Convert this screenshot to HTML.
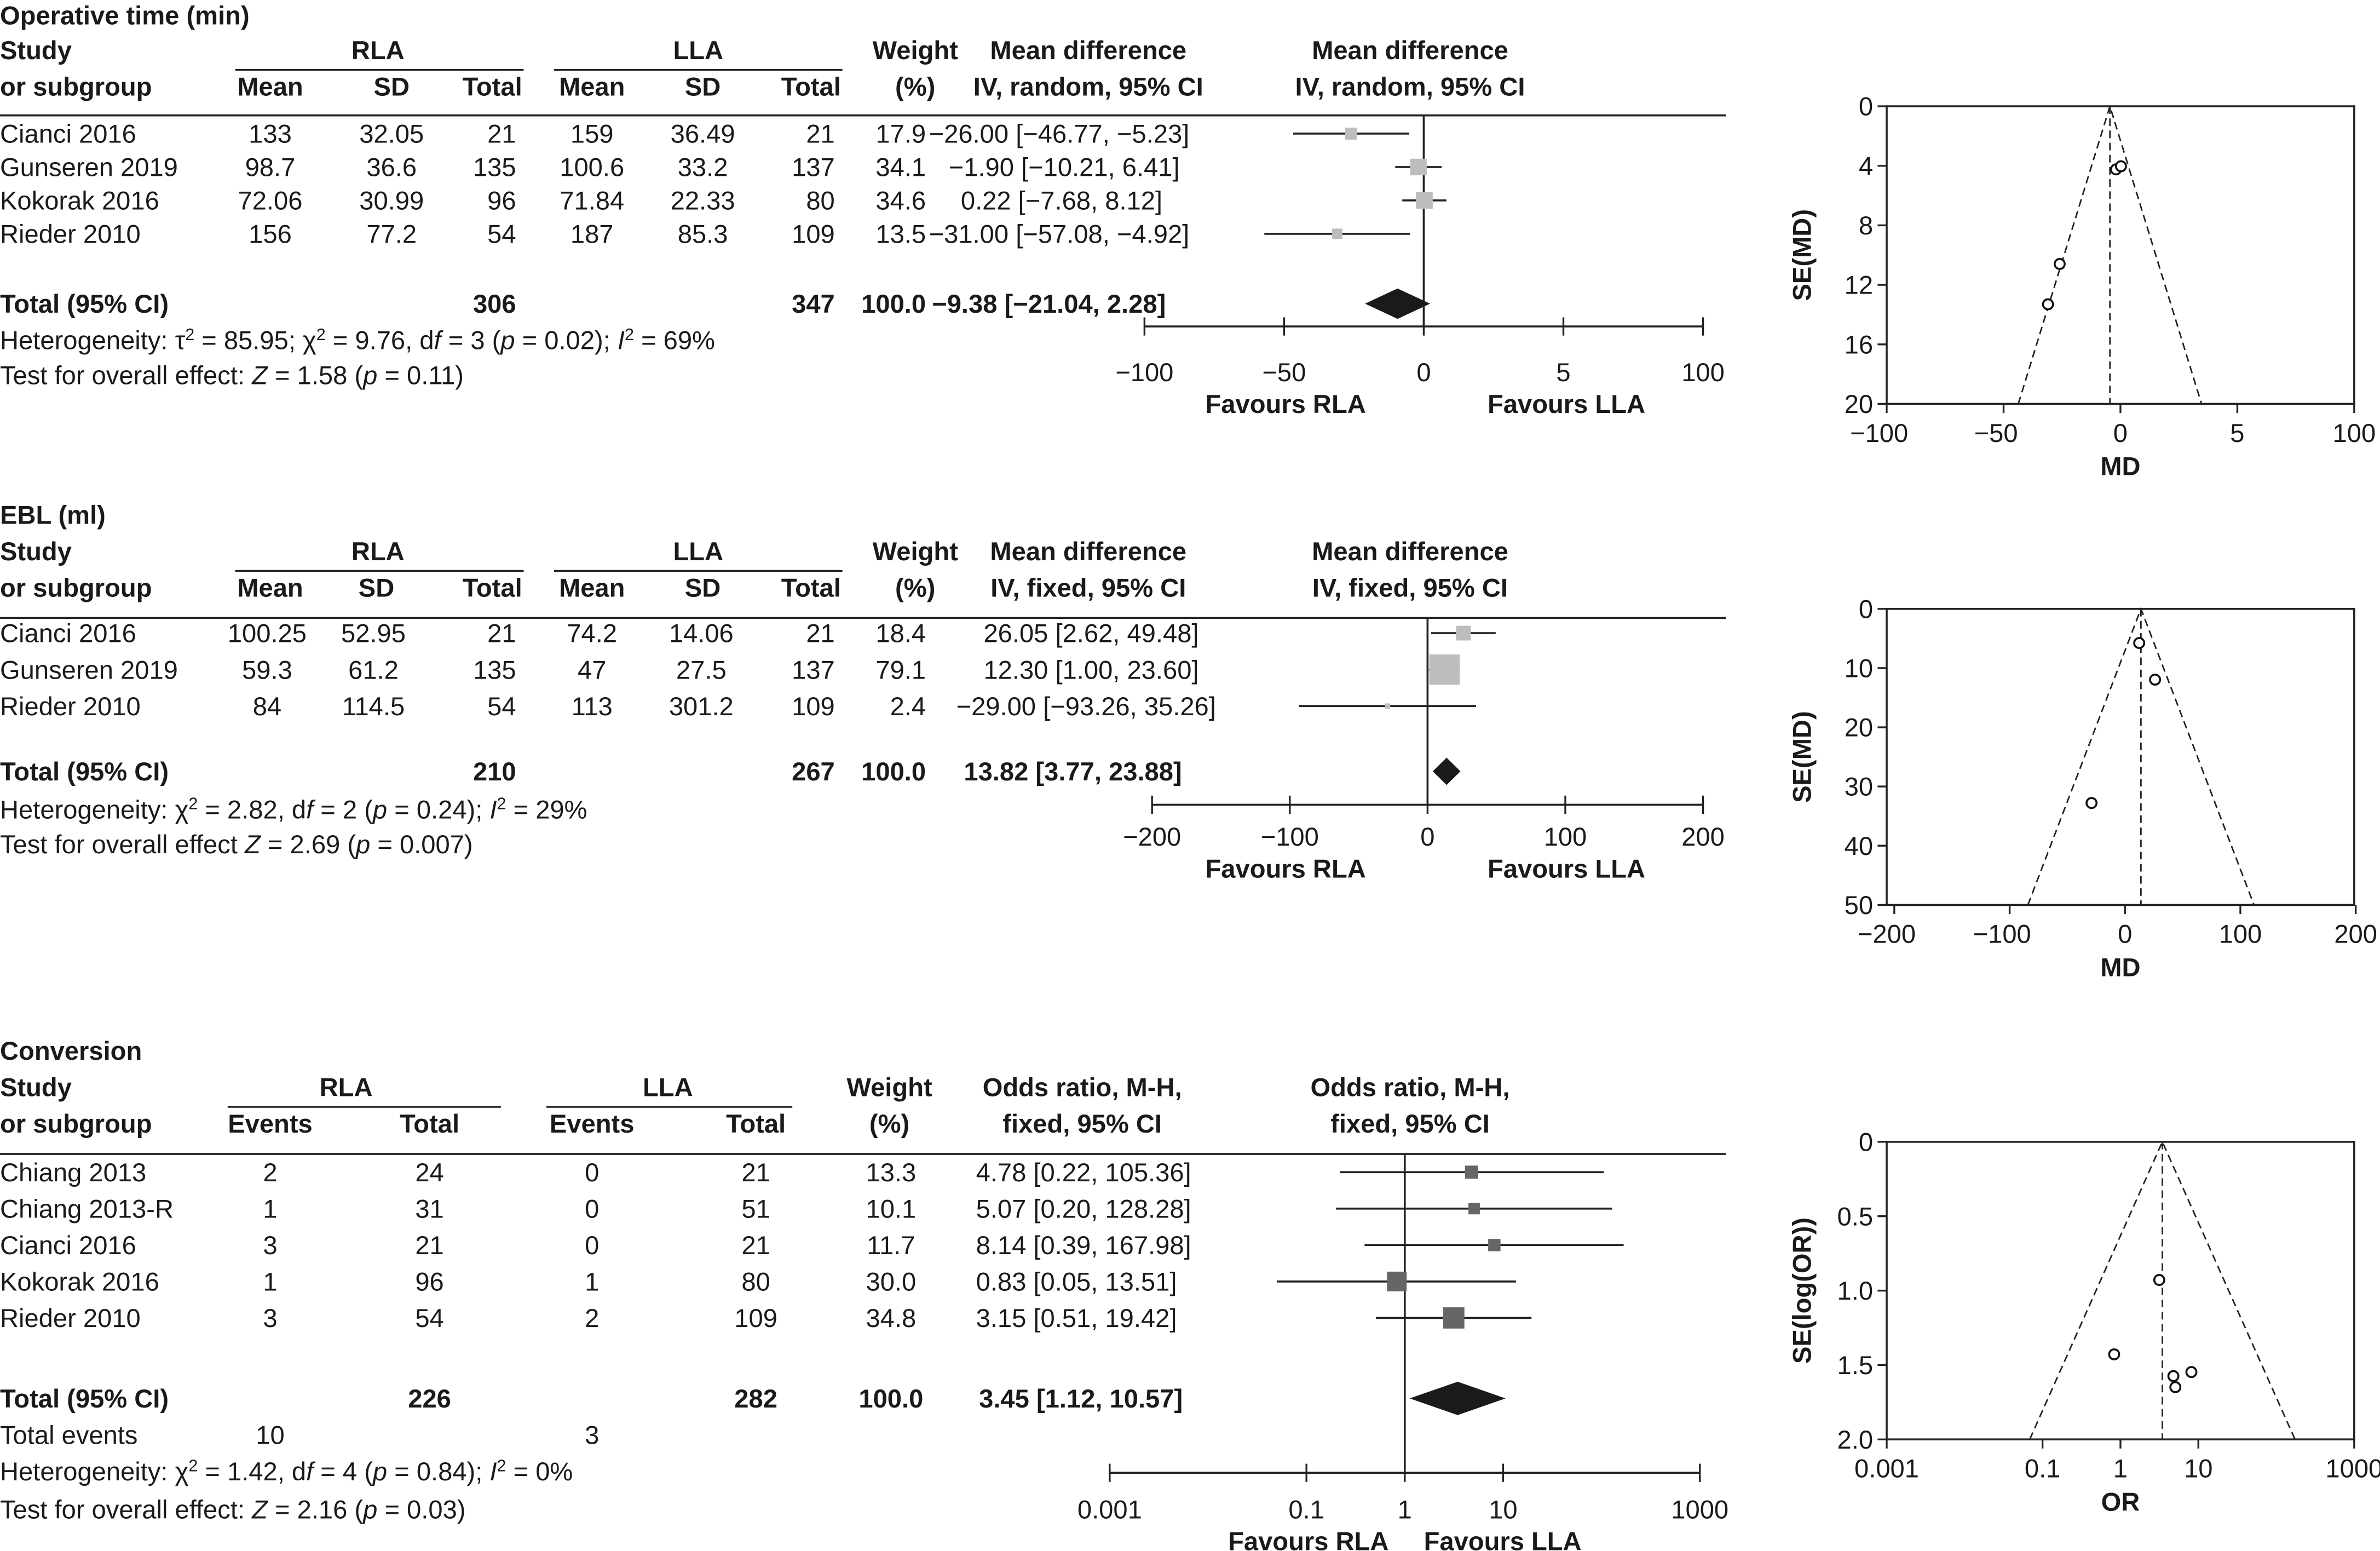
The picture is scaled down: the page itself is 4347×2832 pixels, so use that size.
<!DOCTYPE html>
<html><head><meta charset="utf-8"><style>
html,body{margin:0;padding:0;background:#fff;}
svg{display:block;}
text{font-family:"Liberation Sans",sans-serif;font-size:17px;fill:#1a1a1a;}
.b{font-weight:bold;}
.c{text-anchor:middle;}
.r{text-anchor:end;}
</style></head><body>
<svg id="fig" xmlns="http://www.w3.org/2000/svg" width="4347" height="2832" viewBox="0 0 1568 1021.5" preserveAspectRatio="none">
<rect x="0" y="0" width="1568" height="1021.5" fill="#fff"/>

<!-- PANEL 1 -->
<g>
<text class="b" x="0" y="16">Operative time (min)</text>
<text class="b" x="0" y="39">Study</text>
<text class="b" x="0" y="63">or subgroup</text>
<text class="b c" x="249" y="39">RLA</text>
<line x1="155" y1="46" x2="345" y2="46" stroke="#222" stroke-width="1.2"/>
<text class="b c" x="460" y="39">LLA</text>
<line x1="365" y1="46" x2="555" y2="46" stroke="#222" stroke-width="1.2"/>
<text class="b c" x="178" y="63">Mean</text><text class="b c" x="258" y="63">SD</text><text class="b r" x="344" y="63">Total</text>
<text class="b c" x="390" y="63">Mean</text><text class="b c" x="463" y="63">SD</text><text class="b r" x="554" y="63">Total</text>
<text class="b c" x="603" y="39">Weight</text><text class="b c" x="603" y="63">(%)</text>
<text class="b c" x="717" y="39">Mean difference</text><text class="b c" x="717" y="63">IV, random, 95% CI</text>
<text class="b c" x="929" y="39">Mean difference</text><text class="b c" x="929" y="63">IV, random, 95% CI</text>
<line x1="0" y1="76" x2="1137" y2="76" stroke="#222" stroke-width="1.3"/>
<g><text x="0" y="94">Cianci 2016</text><text class="c" x="178" y="94">133</text><text class="c" x="258" y="94">32.05</text><text class="r" x="340" y="94">21</text><text class="c" x="390" y="94">159</text><text class="c" x="463" y="94">36.49</text><text class="r" x="550" y="94">21</text><text class="r" x="610" y="94">17.9</text><text x="612" y="94">−26.00 [−46.77, −5.23]</text></g>
<g><text x="0" y="116">Gunseren 2019</text><text class="c" x="178" y="116">98.7</text><text class="c" x="258" y="116">36.6</text><text class="r" x="340" y="116">135</text><text class="c" x="390" y="116">100.6</text><text class="c" x="463" y="116">33.2</text><text class="r" x="550" y="116">137</text><text class="r" x="610" y="116">34.1</text><text x="625" y="116">−1.90 [−10.21, 6.41]</text></g>
<g><text x="0" y="138">Kokorak 2016</text><text class="c" x="178" y="138">72.06</text><text class="c" x="258" y="138">30.99</text><text class="r" x="340" y="138">96</text><text class="c" x="390" y="138">71.84</text><text class="c" x="463" y="138">22.33</text><text class="r" x="550" y="138">80</text><text class="r" x="610" y="138">34.6</text><text x="633" y="138">0.22 [−7.68, 8.12]</text></g>
<g><text x="0" y="160">Rieder 2010</text><text class="c" x="178" y="160">156</text><text class="c" x="258" y="160">77.2</text><text class="r" x="340" y="160">54</text><text class="c" x="390" y="160">187</text><text class="c" x="463" y="160">85.3</text><text class="r" x="550" y="160">109</text><text class="r" x="610" y="160">13.5</text><text x="612" y="160">−31.00 [−57.08, −4.92]</text></g>
<g><text class="b" x="0" y="206">Total (95% CI)</text><text class="b r" x="340" y="206">306</text><text class="b r" x="550" y="206">347</text><text class="b r" x="610" y="206">100.0</text><text class="b" x="614" y="206">−9.38 [−21.04, 2.28]</text></g>
<text x="0" y="230">Heterogeneity: τ<tspan font-size="11" dy="-6">2</tspan><tspan dy="6"> = 85.95; χ</tspan><tspan font-size="11" dy="-6">2</tspan><tspan dy="6"> = 9.76, d</tspan><tspan font-style="italic">f</tspan> = 3 (<tspan font-style="italic">p</tspan> = 0.02); <tspan font-style="italic">I</tspan><tspan font-size="11" dy="-6">2</tspan><tspan dy="6"> = 69%</tspan></text>
<text x="0" y="253">Test for overall effect: <tspan font-style="italic">Z</tspan> = 1.58 (<tspan font-style="italic">p</tspan> = 0.11)</text>
</g>

<!-- PANEL 2 -->
<g>
<text class="b" x="0" y="345">EBL (ml)</text>
<text class="b" x="0" y="369">Study</text>
<text class="b" x="0" y="393">or subgroup</text>
<text class="b c" x="249" y="369">RLA</text>
<line x1="155" y1="376" x2="345" y2="376" stroke="#222" stroke-width="1.2"/>
<text class="b c" x="460" y="369">LLA</text>
<line x1="365" y1="376" x2="555" y2="376" stroke="#222" stroke-width="1.2"/>
<text class="b c" x="178" y="393">Mean</text><text class="b c" x="248" y="393">SD</text><text class="b r" x="344" y="393">Total</text>
<text class="b c" x="390" y="393">Mean</text><text class="b c" x="463" y="393">SD</text><text class="b r" x="554" y="393">Total</text>
<text class="b c" x="603" y="369">Weight</text><text class="b c" x="603" y="393">(%)</text>
<text class="b c" x="717" y="369">Mean difference</text><text class="b c" x="717" y="393">IV, fixed, 95% CI</text>
<text class="b c" x="929" y="369">Mean difference</text><text class="b c" x="929" y="393">IV, fixed, 95% CI</text>
<line x1="0" y1="407" x2="1137" y2="407" stroke="#222" stroke-width="1.3"/>
<g><text x="0" y="423">Cianci 2016</text><text class="c" x="176" y="423">100.25</text><text class="c" x="246" y="423">52.95</text><text class="r" x="340" y="423">21</text><text class="c" x="390" y="423">74.2</text><text class="c" x="462" y="423">14.06</text><text class="r" x="550" y="423">21</text><text class="r" x="610" y="423">18.4</text><text x="648" y="423">26.05 [2.62, 49.48]</text></g>
<g><text x="0" y="447">Gunseren 2019</text><text class="c" x="176" y="447">59.3</text><text class="c" x="246" y="447">61.2</text><text class="r" x="340" y="447">135</text><text class="c" x="390" y="447">47</text><text class="c" x="462" y="447">27.5</text><text class="r" x="550" y="447">137</text><text class="r" x="610" y="447">79.1</text><text x="648" y="447">12.30 [1.00, 23.60]</text></g>
<g><text x="0" y="471">Rieder 2010</text><text class="c" x="176" y="471">84</text><text class="c" x="246" y="471">114.5</text><text class="r" x="340" y="471">54</text><text class="c" x="390" y="471">113</text><text class="c" x="462" y="471">301.2</text><text class="r" x="550" y="471">109</text><text class="r" x="610" y="471">2.4</text><text x="630" y="471">−29.00 [−93.26, 35.26]</text></g>
<g><text class="b" x="0" y="514">Total (95% CI)</text><text class="b r" x="340" y="514">210</text><text class="b r" x="550" y="514">267</text><text class="b r" x="610" y="514">100.0</text><text class="b" x="635" y="514">13.82 [3.77, 23.88]</text></g>
<text x="0" y="539">Heterogeneity: χ<tspan font-size="11" dy="-6">2</tspan><tspan dy="6"> = 2.82, d</tspan><tspan font-style="italic">f</tspan> = 2 (<tspan font-style="italic">p</tspan> = 0.24); <tspan font-style="italic">I</tspan><tspan font-size="11" dy="-6">2</tspan><tspan dy="6"> = 29%</tspan></text>
<text x="0" y="562">Test for overall effect <tspan font-style="italic">Z</tspan> = 2.69 (<tspan font-style="italic">p</tspan> = 0.007)</text>
</g>

<!-- PANEL 3 -->
<g>
<text class="b" x="0" y="698">Conversion</text>
<text class="b" x="0" y="722">Study</text>
<text class="b" x="0" y="746">or subgroup</text>
<text class="b c" x="228" y="722">RLA</text>
<line x1="150" y1="729" x2="330" y2="729" stroke="#222" stroke-width="1.2"/>
<text class="b c" x="440" y="722">LLA</text>
<line x1="360" y1="729" x2="522" y2="729" stroke="#222" stroke-width="1.2"/>
<text class="b c" x="178" y="746">Events</text><text class="b c" x="283" y="746">Total</text>
<text class="b c" x="390" y="746">Events</text><text class="b c" x="498" y="746">Total</text>
<text class="b c" x="586" y="722">Weight</text><text class="b c" x="586" y="746">(%)</text>
<text class="b c" x="713" y="722">Odds ratio, M-H,</text><text class="b c" x="713" y="746">fixed, 95% CI</text>
<text class="b c" x="929" y="722">Odds ratio, M-H,</text><text class="b c" x="929" y="746">fixed, 95% CI</text>
<line x1="0" y1="760" x2="1137" y2="760" stroke="#222" stroke-width="1.3"/>
<g><text x="0" y="778">Chiang 2013</text><text class="c" x="178" y="778">2</text><text class="c" x="283" y="778">24</text><text class="c" x="390" y="778">0</text><text class="c" x="498" y="778">21</text><text class="c" x="587" y="778">13.3</text><text x="643" y="778">4.78 [0.22, 105.36]</text></g>
<g><text x="0" y="802">Chiang 2013-R</text><text class="c" x="178" y="802">1</text><text class="c" x="283" y="802">31</text><text class="c" x="390" y="802">0</text><text class="c" x="498" y="802">51</text><text class="c" x="587" y="802">10.1</text><text x="643" y="802">5.07 [0.20, 128.28]</text></g>
<g><text x="0" y="826">Cianci 2016</text><text class="c" x="178" y="826">3</text><text class="c" x="283" y="826">21</text><text class="c" x="390" y="826">0</text><text class="c" x="498" y="826">21</text><text class="c" x="587" y="826">11.7</text><text x="643" y="826">8.14 [0.39, 167.98]</text></g>
<g><text x="0" y="850">Kokorak 2016</text><text class="c" x="178" y="850">1</text><text class="c" x="283" y="850">96</text><text class="c" x="390" y="850">1</text><text class="c" x="498" y="850">80</text><text class="c" x="587" y="850">30.0</text><text x="643" y="850">0.83 [0.05, 13.51]</text></g>
<g><text x="0" y="874">Rieder 2010</text><text class="c" x="178" y="874">3</text><text class="c" x="283" y="874">54</text><text class="c" x="390" y="874">2</text><text class="c" x="498" y="874">109</text><text class="c" x="587" y="874">34.8</text><text x="643" y="874">3.15 [0.51, 19.42]</text></g>
<g><text class="b" x="0" y="927">Total (95% CI)</text><text class="b c" x="283" y="927">226</text><text class="b c" x="498" y="927">282</text><text class="b c" x="587" y="927">100.0</text><text class="b" x="645" y="927">3.45 [1.12, 10.57]</text></g>
<g><text x="0" y="951">Total events</text><text class="c" x="178" y="951">10</text><text class="c" x="390" y="951">3</text></g>
<text x="0" y="975">Heterogeneity: χ<tspan font-size="11" dy="-6">2</tspan><tspan dy="6"> = 1.42, d</tspan><tspan font-style="italic">f</tspan> = 4 (<tspan font-style="italic">p</tspan> = 0.84); <tspan font-style="italic">I</tspan><tspan font-size="11" dy="-6">2</tspan><tspan dy="6"> = 0%</tspan></text>
<text x="0" y="1000">Test for overall effect: <tspan font-style="italic">Z</tspan> = 2.16 (<tspan font-style="italic">p</tspan> = 0.03)</text>
</g>

<g id="charts"></g>
</svg>
<script>
// ---- Panel 1: Operative time (mean difference) ----
const p1Studies = ["Cianci 2016","Gunseren 2019","Kokorak 2016","Rieder 2010"];
const p1Md = [-26.00, -1.90, 0.22, -31.00];
const p1Lo = [-46.77, -10.21, -7.68, -57.08];
const p1Hi = [-5.23, 6.41, 8.12, -4.92];
const p1Weight = [17.9, 34.1, 34.6, 13.5];
const p1Total = [-9.38, -21.04, 2.28];
const p1FunnelCenter = [-4.5];
const p1Ticks = [-100, -50, 0, 50, 100];
const p1TickLabels = ["−100","−50","0","5","100"];
const p1FunnelYTicks = [0,4,8,12,16,20];
// ---- Panel 2: EBL ----
const p2Studies = ["Cianci 2016","Gunseren 2019","Rieder 2010"];
const p2Md = [26.05, 12.30, -29.00];
const p2Lo = [2.62, 1.00, -93.26];
const p2Hi = [49.48, 23.60, 35.26];
const p2Weight = [18.4, 79.1, 2.4];
const p2Total = [13.82, 3.77, 23.88];
const p2Ticks = [-200, -100, 0, 100, 200];
const p2TickLabels = ["−200","−100","0","100","200"];
const p2FunnelYTicks = [0,10,20,30,40,50];
// ---- Panel 3: Conversion (odds ratio) ----
const p3Studies = ["Chiang 2013","Chiang 2013-R","Cianci 2016","Kokorak 2016","Rieder 2010"];
const p3Or = [4.78, 5.07, 8.14, 0.83, 3.15];
const p3Lo = [0.22, 0.20, 0.39, 0.05, 0.51];
const p3Hi = [105.36, 128.28, 167.98, 13.51, 19.42];
const p3Weight = [13.3, 10.1, 11.7, 30.0, 34.8];
const p3Total = [3.45, 1.12, 10.57];
const p3Ticks = [0.001, 0.1, 1, 10, 1000];
const p3TickLabels = ["0.001","0.1","1","10","1000"];
const p3FunnelYTicks = [0, 0.5, 1.0, 1.5, 2.0];
const p3FunnelYLabels = ["0","0.5","1.0","1.5","2.0"];

const NS = "http://www.w3.org/2000/svg";
const root = document.getElementById("charts");
function el(tag, attrs, parent){
  const e = document.createElementNS(NS, tag);
  for (const k in attrs) e.setAttribute(k, attrs[k]);
  (parent||root).appendChild(e);
  return e;
}
function txt(s, x, y, cls, parent){
  const t = el("text", {x:x, y:y, class:cls||""}, parent);
  t.textContent = s;
  return t;
}

function forest(opt){
  const g = el("g", {});
  
  
  const X = opt.scale;
  const z = el("line", {x1:X(opt.nullVal), x2:X(opt.nullVal), y1:opt.top, y2:opt.axisY, stroke:"#222", "stroke-width":1.3}, g);
  
  
  for (let i=0;i<opt.est.length;i++){
    const y = opt.rows[i];
    const ci = el("line", {x1:X(opt.lo[i]), x2:X(opt.hi[i]), y1:y, y2:y, stroke:"#222", "stroke-width":1.3}, g);
    
    
    const s = opt.k*Math.sqrt(opt.w[i]);
    const sq = el("rect", {x:X(opt.est[i])-s/2, y:y-s/2, width:s, height:s, fill:opt.color}, g);
    
    
  }
  const t = opt.total, ty = opt.totalY, h = opt.dh/2;
  const d = el("polygon", {points:`${X(t[1])},${ty} ${X(t[0])},${ty-h} ${X(t[2])},${ty} ${X(t[0])},${ty+h}`, fill:"#1a1a1a"}, g);
  
  
  const ax = el("line", {x1:X(opt.ticks[0]), x2:X(opt.ticks[opt.ticks.length-1]), y1:opt.axisY, y2:opt.axisY, stroke:"#222", "stroke-width":1.3}, g);
  
  
  opt.ticks.forEach((v,i)=>{
    el("line", {x1:X(v), x2:X(v), y1:opt.axisY-6, y2:opt.axisY+6, stroke:"#222", "stroke-width":1.2}, g);
    const tl = txt(opt.tickLabels[i], X(v), opt.tickY, "c", g);
    
    
  });
  const f1 = txt("Favours RLA", opt.fav[0], opt.favY, "b c", g);
  
  
  const f2 = txt("Favours LLA", opt.fav[1], opt.favY, "b c", g);
  
  
}

function funnel(opt){
  const g = el("g", {});
  
  
  const X = opt.scale, Y = opt.yscale;
  const L = 1243, R = 1551, T = Y(opt.yTicks[0]), B = Y(opt.yTicks[opt.yTicks.length-1]);
  const fr = el("rect", {x:L, y:T, width:R-L, height:B-T, fill:"none", stroke:"#222", "stroke-width":1.3}, g);
  
  
  opt.yTicks.forEach((v,i)=>{
    el("line", {x1:L-6, x2:L, y1:Y(v), y2:Y(v), stroke:"#222", "stroke-width":1.2}, g);
    const tl = txt(opt.yLabels[i], L-9, Y(v)+6, "r", g);
    
    
  });
  opt.xTicks.forEach((v,i)=>{
    el("line", {x1:X(v), x2:X(v), y1:B, y2:B+6, stroke:"#222", "stroke-width":1.2}, g);
    const tl = txt(opt.xLabels[i], X(v)+opt.xLabelShift[i], B+25, "c", g);
    
    
  });
  const maxSe = opt.yTicks[opt.yTicks.length-1];
  const c = opt.center;
  const dash = {stroke:"#222", "stroke-width":1, "stroke-dasharray":"5,3", fill:"none"};
  const v = el("line", Object.assign({x1:X(c), x2:X(c), y1:T, y2:B}, dash), g);
  
  
  const lft = opt.bound(c, maxSe, -1), rgt = opt.bound(c, maxSe, 1);
  const fl = el("polyline", Object.assign({points:`${X(lft)},${B} ${X(c)},${T} ${X(rgt)},${B}`}, dash), g);
  
  
  for (let i=0;i<opt.x.length;i++){
    const p = el("circle", {cx:X(opt.x[i]), cy:Y(opt.se[i]), r:3.3, fill:"#fff", stroke:"#111", "stroke-width":1.3}, g);
    
    
  }
  const yt = txt(opt.yTitle, 0, 0, "b c", g);
  yt.setAttribute("transform", `translate(1193,${(T+B)/2}) rotate(-90)`);
  
  
  const xt = txt(opt.xTitle, 1397, B+47, "b c", g);
  
  
}

// Panel 1
const X1 = v => 938 + v*1.84;
forest({name:"operative-time-forest", scale:X1, nullVal:0, top:76, axisY:215, rows:[88,110,132,154],
  est:p1Md, lo:p1Lo, hi:p1Hi, w:p1Weight, k:1.87, color:"#bdbdbd", total:p1Total, totalY:200, dh:20,
  ticks:p1Ticks, tickLabels:p1TickLabels, tickY:251, fav:[847,1032], favY:272});
const F1x = v => 1397 + v*1.54, F1y = s => 70 + s*9.8;
const se1 = p1Lo.map((l,i)=>(p1Hi[i]-l)/3.92);
funnel({name:"operative-time-funnel", scale:F1x, yscale:F1y, yTicks:p1FunnelYTicks, yLabels:p1FunnelYTicks.map(String),
  xTicks:p1Ticks, xLabels:p1TickLabels, xLabelShift:[-5,-5,0,0,0], center:p1FunnelCenter[0],
  bound:(c,s,sg)=>c+sg*1.96*s, x:p1Md, se:se1, yTitle:"SE(MD)", xTitle:"MD"});

// Panel 2
const X2 = v => 940.5 + v*0.9075;
forest({name:"ebl-forest", scale:X2, nullVal:0, top:407, axisY:530, rows:[417,441,465],
  est:p2Md, lo:p2Lo, hi:p2Hi, w:p2Weight, k:2.25, color:"#bdbdbd", total:p2Total, totalY:508, dh:18,
  ticks:p2Ticks, tickLabels:p2TickLabels, tickY:557, fav:[847,1032], favY:578});
const F2x = v => 1400 + v*0.76, F2y = s => 401 + s*3.9;
const se2 = p2Lo.map((l,i)=>(p2Hi[i]-l)/3.92);
funnel({name:"ebl-funnel", scale:F2x, yscale:F2y, yTicks:p2FunnelYTicks, yLabels:p2FunnelYTicks.map(String),
  xTicks:p2Ticks, xLabels:p2TickLabels, xLabelShift:[-5,-5,0,0,0], center:p2Total[0],
  bound:(c,s,sg)=>c+sg*1.96*s, x:p2Md, se:se2, yTitle:"SE(MD)", xTitle:"MD"});

// Panel 3
const X3 = v => 925.5 + Math.log10(v)*64.8;
forest({name:"conversion-forest", scale:X3, nullVal:1, top:760, axisY:970, rows:[772,796,820,844,868],
  est:p3Or, lo:p3Lo, hi:p3Hi, w:p3Weight, k:2.37, color:"#666", total:p3Total, totalY:921, dh:22,
  ticks:p3Ticks, tickLabels:p3TickLabels, tickY:1000, fav:[862,990], favY:1021});
const F3x = v => 1397 + Math.log10(v)*51.33, F3y = s => 752 + s*98;
const se3 = p3Lo.map((l,i)=>(Math.log(p3Hi[i])-Math.log(l))/3.92);
funnel({name:"conversion-funnel", scale:F3x, yscale:F3y, yTicks:p3FunnelYTicks, yLabels:p3FunnelYLabels,
  xTicks:p3Ticks, xLabels:p3TickLabels, xLabelShift:[0,0,0,0,0], center:p3Total[0],
  bound:(c,s,sg)=>Math.exp(Math.log(c)+sg*1.96*s), x:p3Or, se:se3, yTitle:"SE(log(OR))", xTitle:"OR"});
</script>
</body></html>
